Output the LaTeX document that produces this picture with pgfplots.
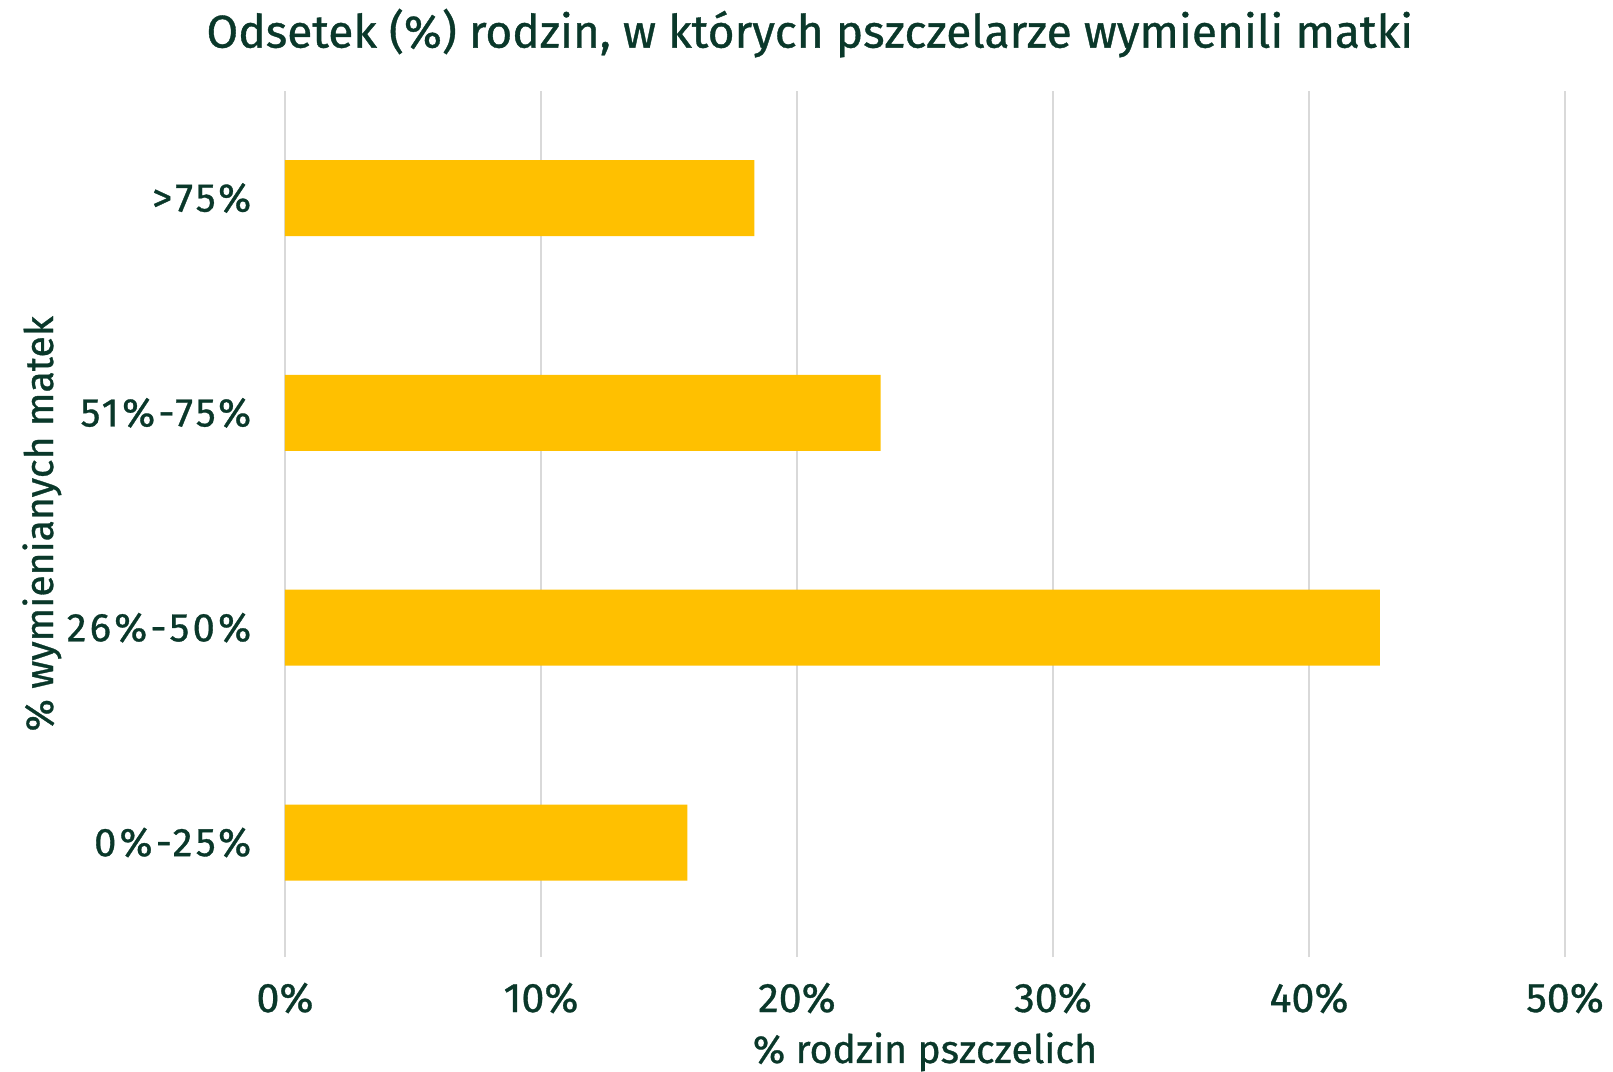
\documentclass[border=0pt]{standalone}
\usepackage{fontspec}
\setmainfont{Fira Sans}[FakeBold=0.8]
\newfontfamily\wide{Fira Sans}[LetterSpace=8, FakeBold=0.8]
\usepackage{pgfplots}
\pgfplotsset{compat=1.18}
\definecolor{txt}{RGB}{10,56,42}
\definecolor{barc}{RGB}{255,192,0}
\definecolor{grd}{RGB}{217,217,217}

\begin{document}
\begin{tikzpicture}
% canvas 1613x1071 px at 0.25pt per px, axis box starts at px (285,957)
\path[use as bounding box] (-71.25pt,-28.5pt) rectangle (332pt,239.25pt);
\begin{axis}[
  at={(0,0)}, anchor=south west,
  scale only axis, width=320pt, height=216.6pt,
  xbar, bar width=19pt,
  xmin=0, xmax=50, ymin=-0.533, ymax=3.5,
  xtick={0,10,20,30,40,50},
  xticklabels={0\%,10\%,20\%,30\%,40\%,50\%},
  ytick={0,1,2,3},
  yticklabels={0\%-25\%,26\%-50\%,51\%-75\%,>75\%},
  axis line style={draw=none},
  major tick length=0pt,
  xmajorgrids, grid style={grd, line width=0.5pt},
  ticklabel style={text=txt, inner sep=0pt},
  xticklabel style={anchor=center, yshift=-10.25pt, font=\fontsize{10.3}{12}\selectfont},
  yticklabel style={anchor=east, xshift=-8.25pt, font=\wide\fontsize{10}{12}\selectfont},
  title={Odsetek (\%) rodzin, w których pszczelarze wymienili matki},
  title style={at={(rel axis cs:0.41,1.0496)}, anchor=base, inner sep=0pt, yshift=-6pt,
    font=\fontsize{11.5}{13}\selectfont, text=txt},
  xlabel={\% rodzin pszczelich},
  xlabel style={at={(rel axis cs:0.5,-0.1223)}, anchor=base, inner sep=0pt,
    font=\fontsize{9.8}{12}\selectfont, text=txt},
  ylabel={\% wymienianych matek},
  ylabel style={at={(rel axis cs:-0.18125,0.5)}, anchor=base, rotate=0, inner sep=0pt,
    font=\fontsize{9.8}{12}\selectfont, text=txt},
]
\addplot[fill=barc, draw=none] coordinates {
(15.72,0)
(42.77,1)
(23.27,2)
(18.33,3)
};
\end{axis}
\end{tikzpicture}
\end{document}
